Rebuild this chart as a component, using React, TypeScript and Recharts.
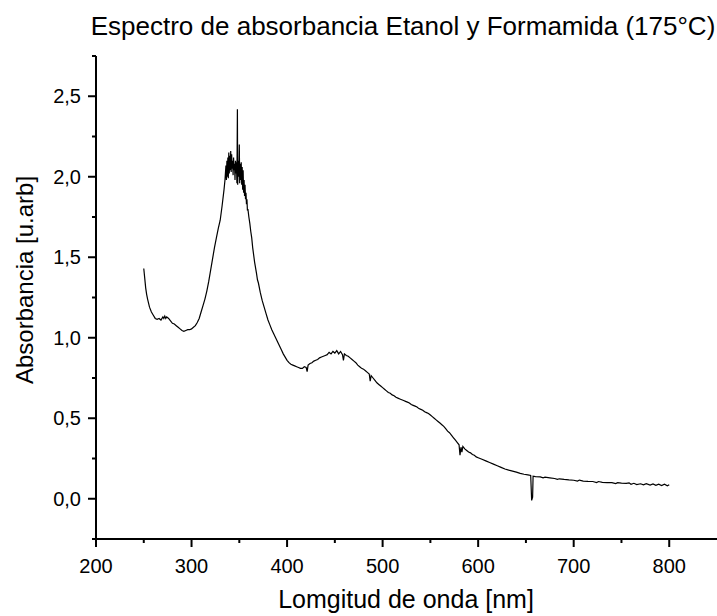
import { LineChart, Line, XAxis, YAxis } from "recharts";

// [wavelength nm, absorbance]
const uvEdge: [number, number][] = [
  [250, 1.43], [251, 1.37], [252, 1.31], [253, 1.27], [254, 1.24], [256, 1.19],
  [258, 1.16], [260, 1.14], [262, 1.12], [264, 1.115], [266, 1.12], [268, 1.11],
  [270, 1.13], [271, 1.12], [272, 1.135], [273, 1.12], [274, 1.13], [276, 1.12],
  [278, 1.105], [280, 1.09], [282, 1.085], [284, 1.075], [286, 1.065], [288, 1.055],
  [290, 1.045], [292, 1.04], [294, 1.045], [296, 1.05], [298, 1.05], [300, 1.055],
  [302, 1.065], [304, 1.075], [306, 1.095], [308, 1.12], [310, 1.16], [312, 1.2],
  [314, 1.24], [316, 1.29], [318, 1.35], [320, 1.42], [322, 1.49], [324, 1.56],
  [326, 1.62], [328, 1.68], [330, 1.73], [332, 1.82], [334, 1.92], [335, 1.98],
  [336, 2.07],
];

const mainPeak: [number, number][] = [
  [336.5, 1.98], [337, 2.1], [337.5, 2.0], [338, 2.12], [338.5, 1.99], [339, 2.15],
  [339.5, 2.02], [340, 2.13], [340.5, 2.04], [341, 2.16], [341.5, 2.03], [342, 2.14],
  [342.5, 2.05], [343, 2.1], [343.5, 2.01], [344, 2.12], [344.5, 2.04], [345, 2.08],
  [345.5, 1.98], [346, 2.1], [346.5, 2.02], [347, 2.09], [347.5, 1.96], [348, 2.42],
  [348.3, 1.95], [349, 2.1], [349.5, 2.0], [350, 2.2], [350.4, 1.96], [351, 2.08],
  [351.5, 1.98], [352, 2.09], [352.5, 1.95], [353, 2.06], [353.5, 1.92], [354, 2.04],
  [354.5, 1.9], [355, 1.98], [355.5, 1.88], [356, 1.95], [356.5, 1.86], [357, 1.9],
  [357.5, 1.83], [358, 1.86], [358.5, 1.79], [359, 1.8], [360, 1.75], [361, 1.71],
  [362, 1.66], [363, 1.62], [364, 1.56], [366, 1.47], [368, 1.4], [369, 1.36],
  [370, 1.34], [372, 1.28], [374, 1.23], [376, 1.19], [378, 1.15], [380, 1.11],
  [382, 1.08], [384, 1.05], [386, 1.025], [388, 1.0], [390, 0.975], [392, 0.95],
  [394, 0.925], [396, 0.9], [398, 0.88], [400, 0.86],
];

const shoulder: [number, number][] = [
  [402, 0.845], [404, 0.835], [406, 0.83], [408, 0.825], [410, 0.82], [412, 0.815],
  [414, 0.81], [416, 0.81], [418, 0.82], [420, 0.815], [421, 0.79], [422, 0.83],
  [424, 0.84], [426, 0.845], [428, 0.855], [430, 0.86], [432, 0.865], [434, 0.875],
  [436, 0.88], [438, 0.885], [440, 0.89], [442, 0.895], [444, 0.91], [446, 0.9],
  [448, 0.915], [450, 0.905], [452, 0.92], [454, 0.9], [456, 0.915], [458, 0.895],
  [459, 0.86], [460, 0.9], [462, 0.89], [464, 0.885], [466, 0.875], [468, 0.865],
  [470, 0.855], [472, 0.845], [474, 0.83], [476, 0.82], [478, 0.81], [480, 0.805],
  [482, 0.795], [484, 0.785], [486, 0.775], [487, 0.73], [488, 0.765], [490, 0.75],
  [492, 0.735], [494, 0.72], [496, 0.71], [498, 0.7], [500, 0.69], [502, 0.68],
  [504, 0.67], [506, 0.66], [508, 0.655], [510, 0.645], [512, 0.64], [514, 0.63],
  [516, 0.625], [518, 0.62], [520, 0.615], [522, 0.61], [524, 0.605], [526, 0.6],
  [528, 0.595], [530, 0.585], [532, 0.58], [534, 0.575], [536, 0.57], [538, 0.56],
  [540, 0.555], [542, 0.55], [544, 0.54], [546, 0.535], [548, 0.53], [550, 0.52],
  [552, 0.51], [554, 0.5], [556, 0.49], [558, 0.48], [560, 0.47], [562, 0.46],
  [564, 0.45], [566, 0.435], [568, 0.42], [570, 0.41], [572, 0.395], [574, 0.38],
  [576, 0.365], [578, 0.35], [580, 0.335], [581, 0.27], [582, 0.32], [583, 0.29],
  [584, 0.325], [586, 0.31], [588, 0.3], [590, 0.29],
];

const tail: [number, number][] = [
  [592, 0.285], [594, 0.275], [596, 0.27], [598, 0.26], [600, 0.255], [604, 0.245],
  [608, 0.235], [612, 0.225], [616, 0.215], [620, 0.205], [624, 0.195], [628, 0.185],
  [632, 0.178], [636, 0.172], [640, 0.165], [644, 0.158], [648, 0.152], [652, 0.148],
  [655, 0.145], [656, -0.01], [657, 0.01], [657.5, 0.14], [660, 0.138], [665, 0.136],
  [668, 0.13], [670, 0.134], [675, 0.13], [680, 0.126], [683, 0.12], [685, 0.124],
  [690, 0.12], [695, 0.117], [700, 0.115], [704, 0.11], [706, 0.116], [710, 0.11],
  [715, 0.108], [720, 0.107], [724, 0.101], [726, 0.107], [730, 0.102], [735, 0.1],
  [740, 0.1], [744, 0.094], [746, 0.1], [750, 0.097], [755, 0.095], [758, 0.099],
  [760, 0.09], [763, 0.096], [766, 0.088], [770, 0.093], [773, 0.086], [776, 0.094],
  [780, 0.085], [783, 0.092], [786, 0.083], [789, 0.091], [792, 0.082], [795, 0.09],
  [798, 0.08], [800, 0.087],
];

const xTicks = [200, 250, 300, 350, 400, 450, 500, 550, 600, 650, 700, 750, 800];
const yTicks = [-0.25, 0, 0.25, 0.5, 0.75, 1, 1.25, 1.5, 1.75, 2, 2.25, 2.5, 2.75];

const data = [...uvEdge, ...mainPeak, ...shoulder, ...tail].map(([nm, abs]) => ({ nm, abs }));

const FONT = "Arial, 'Liberation Sans', sans-serif";

function XTick({ x, y, payload }: any) {
  const major = payload.value % 100 === 0;
  return (
    <g>
      <line x1={x} x2={x} y1={y} y2={y + (major ? 8 : 4)} stroke="#000" strokeWidth={2} />
      {major && (
        <text x={x} y={y + 34} textAnchor="middle" fontSize={20} fontFamily={FONT} fill="#000">
          {payload.value}
        </text>
      )}
    </g>
  );
}

function YTick({ x, y, payload }: any) {
  const v = payload.value;
  const major = Math.abs((v * 2) % 1) < 1e-6;
  return (
    <g>
      <line x1={x} x2={x - (major ? 8 : 4)} y1={y} y2={y} stroke="#000" strokeWidth={2} />
      {major && (
        <text x={x - 15} y={y + 7} textAnchor="end" fontSize={20} fontFamily={FONT} fill="#000">
          {v.toFixed(1).replace(".", ",")}
        </text>
      )}
    </g>
  );
}

export default function App() {
  return (
    <div style={{ position: "absolute", left: 0, top: 0, width: 717, height: 616, background: "#fff" }}>
      <LineChart width={717} height={616} data={data} margin={{ top: 56, right: 0, bottom: 0, left: 0 }}>
        <text x={403} y={35} textAnchor="middle" fontSize={26} fontFamily={FONT} fill="#000">
          Espectro de absorbancia Etanol y Formamida (175°C)
        </text>
        <text x={406} y={608} textAnchor="middle" fontSize={25} fontFamily={FONT} fill="#000">
          Lomgitud de onda [nm]
        </text>
        <text
          x={33}
          y={280}
          textAnchor="middle"
          fontSize={24}
          fontFamily={FONT}
          fill="#000"
          transform="rotate(-90 33 280)"
        >
          Absorbancia [u.arb]
        </text>
        <XAxis
          dataKey="nm"
          type="number"
          domain={[200, 850]}
          ticks={xTicks}
          height={77}
          tickSize={0}
          tickMargin={0}
          tickLine={false}
          tick={<XTick />}
          axisLine={{ stroke: "#000", strokeWidth: 2 }}
          allowDataOverflow
        />
        <YAxis
          type="number"
          domain={[-0.25, 2.75]}
          ticks={yTicks}
          width={96}
          tickSize={0}
          tickMargin={0}
          tickLine={false}
          tick={<YTick />}
          axisLine={{ stroke: "#000", strokeWidth: 2 }}
          allowDataOverflow
        />
        <Line
          dataKey="abs"
          type="linear"
          stroke="#000"
          strokeWidth={1.2}
          dot={false}
          activeDot={false}
          isAnimationActive={false}
        />
      </LineChart>
    </div>
  );
}
